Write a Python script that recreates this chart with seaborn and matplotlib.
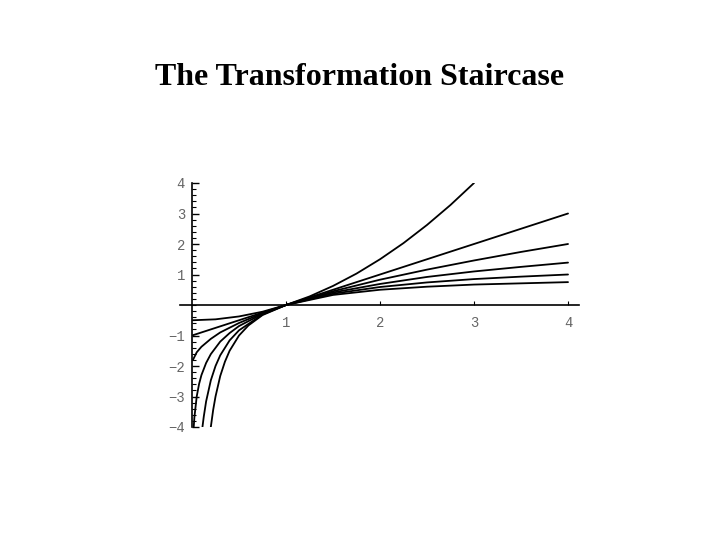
import matplotlib
matplotlib.use("Agg")
import matplotlib.pyplot as plt
from matplotlib.ticker import MultipleLocator, FixedLocator
import seaborn as sns
import pandas as pd

# Curves (one per power of the ladder)
x_p2 = [0.01, 0.25, 0.5, 0.75, 1.0, 1.25, 1.5, 1.75, 2.0, 2.25, 2.5, 2.75, 3.0]
y_p2 = [-0.5, -0.47, -0.375, -0.22, 0.0, 0.28, 0.625, 1.03, 1.5, 2.03, 2.625, 3.28, 4.0]

x_p1 = [0.01, 1.0, 2.0, 3.0, 4.0]
y_p1 = [-0.99, 0.0, 1.0, 2.0, 3.0]

x_p05 = [0.01, 0.05, 0.1, 0.2, 0.3, 0.5, 0.75, 1.0, 1.5, 2.0, 2.5, 3.0, 3.5, 4.0]
y_p05 = [-1.8, -1.55, -1.37, -1.11, -0.9, -0.59, -0.27, 0.0, 0.45, 0.83, 1.16, 1.46, 1.74, 2.0]

x_p0 = [0.018, 0.025, 0.05, 0.075, 0.1, 0.15, 0.2, 0.3, 0.4, 0.5, 0.75, 1.0, 1.5, 2.0, 2.5, 3.0, 3.5, 4.0]
y_p0 = [-4.0, -3.69, -3.0, -2.59, -2.3, -1.9, -1.61, -1.2, -0.92, -0.69, -0.29, 0.0, 0.41, 0.69, 0.92, 1.1, 1.25, 1.39]

x_pm05 = [0.111, 0.125, 0.15, 0.2, 0.25, 0.3, 0.4, 0.5, 0.75, 1.0, 1.5, 2.0, 2.5, 3.0, 3.5, 4.0]
y_pm05 = [-4.0, -3.66, -3.16, -2.47, -2.0, -1.65, -1.16, -0.83, -0.31, 0.0, 0.37, 0.59, 0.74, 0.85, 0.93, 1.0]

x_pm1 = [0.2, 0.225, 0.25, 0.3, 0.35, 0.4, 0.5, 0.6, 0.75, 1.0, 1.5, 2.0, 2.5, 3.0, 3.5, 4.0]
y_pm1 = [-4.0, -3.44, -3.0, -2.33, -1.86, -1.5, -1.0, -0.67, -0.33, 0.0, 0.33, 0.5, 0.6, 0.67, 0.71, 0.75]

powers = ["2", "1", "0.5", "0", "-0.5", "-1"]
xs = [x_p2, x_p1, x_p05, x_p0, x_pm05, x_pm1]
ys = [y_p2, y_p1, y_p05, y_p0, y_pm05, y_pm1]

x_ticks = [1, 2, 3, 4]
y_ticks = [-4, -3, -2, -1, 1, 2, 3, 4]

title = "The Transformation Staircase"

frames = []
for p, xv, yv in zip(powers, xs, ys):
    frames.append(pd.DataFrame({"x": xv, "y": yv, "power": p}))
df = pd.concat(frames, ignore_index=True)

sns.set_style("white")
fig = plt.figure(figsize=(7.2, 5.4), dpi=100)
ax = fig.add_axes([179.8 / 720, (540 - 427) / 540, 399.5 / 720, 244 / 540])

sns.lineplot(data=df, x="x", y="y", hue="power", units="power", estimator=None,
             sort=False, palette=["black"] * len(powers), legend=False,
             linewidth=1.3, ax=ax)

ax.set_xlim(-0.13, 4.12)
ax.set_ylim(-4, 4)
ax.set_xlabel("")
ax.set_ylabel("")

for s in ["top", "right"]:
    ax.spines[s].set_visible(False)
ax.spines["left"].set_position(("data", 0))
ax.spines["bottom"].set_position(("data", 0))
for s in ["left", "bottom"]:
    ax.spines[s].set_color("black")
    ax.spines[s].set_linewidth(1.2)

ax.xaxis.set_major_locator(FixedLocator(x_ticks))
ax.yaxis.set_major_locator(FixedLocator(y_ticks))
ax.yaxis.set_minor_locator(MultipleLocator(0.2))
ax.set_xticklabels([str(t) for t in x_ticks])
ax.set_yticklabels([str(t).replace("-", "\u2212") for t in y_ticks])

ax.tick_params(axis="y", which="major", direction="in", length=5, width=1,
               color="black", left=True, labelsize=10, labelcolor="#666666", pad=5)
ax.tick_params(axis="y", which="minor", direction="in", length=3, width=0.8,
               color="black", left=True)
ax.tick_params(axis="x", which="major", direction="in", length=3, width=0.8,
               color="black", bottom=True, labelsize=10, labelcolor="#666666", pad=8)
for lab in ax.get_xticklabels() + ax.get_yticklabels():
    lab.set_family("Liberation Mono")

fig.text(0.5, 1 - 78 / 540, title, ha="center", va="center",
         fontsize=23, fontweight="bold", family="Liberation Serif", color="black")

fig.savefig("out.png", dpi=100, facecolor="white")
